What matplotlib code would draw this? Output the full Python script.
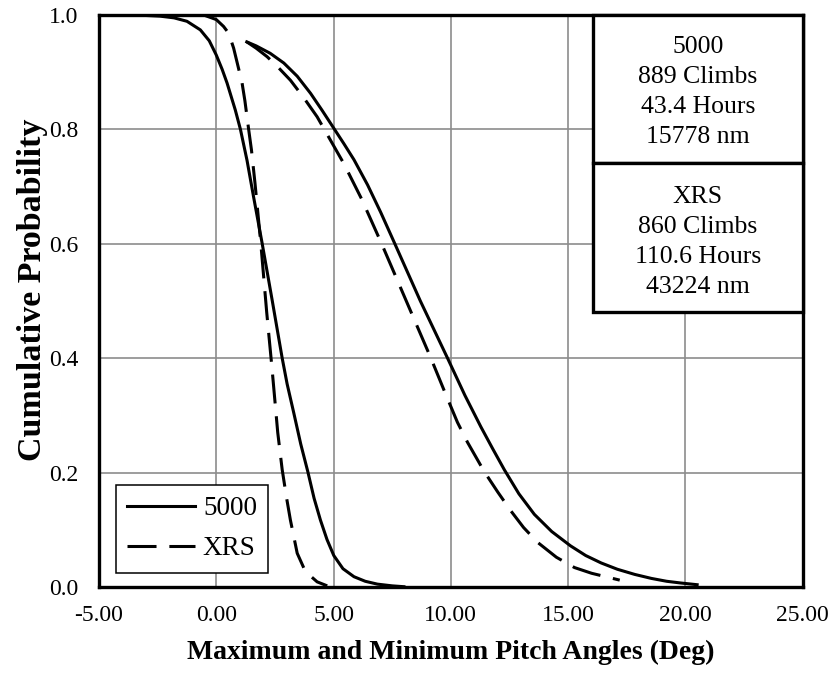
import matplotlib
matplotlib.use("Agg")
import matplotlib.pyplot as plt
from matplotlib.patches import Rectangle
from matplotlib.ticker import FormatStrFormatter, MultipleLocator

plt.rcParams['font.family'] = ['Liberation Serif', 'DejaVu Serif']

# ---- data ----
series_names = ["5000", "XRS"]

x_5000_min = [-3.4, -2.4, -1.8, -1.25, -0.68, -0.30, 0.0, 0.25, 0.46, 0.81, 1.03, 1.31, 1.59, 1.95, 2.38,
              2.81, 3.02, 3.30, 3.60, 3.90, 4.17, 4.44, 4.72, 5.01, 5.40, 5.87, 6.35, 6.87, 7.50, 8.0]
y_5000_min = [1.0, 0.998, 0.995, 0.989, 0.974, 0.955, 0.930, 0.905, 0.881, 0.834, 0.800, 0.746, 0.682, 0.602, 0.502,
              0.400, 0.355, 0.305, 0.250, 0.202, 0.155, 0.117, 0.083, 0.055, 0.032, 0.018, 0.010, 0.005, 0.002, 0.0005]

x_5000_max = [1.30, 1.70, 2.30, 2.88, 3.45, 4.02, 4.50, 5.01, 5.44, 5.87, 6.45, 7.01, 7.58, 8.70, 9.86, 10.60,
              11.28, 11.78, 12.28, 12.90, 13.56, 14.30, 15.10, 15.75, 16.41, 17.10, 17.84, 18.55, 19.20, 19.80, 20.50]
y_5000_max = [0.953, 0.946, 0.933, 0.916, 0.893, 0.863, 0.834, 0.802, 0.775, 0.747, 0.703, 0.655, 0.603, 0.500, 0.400, 0.335,
              0.280, 0.242, 0.205, 0.163, 0.127, 0.097, 0.072, 0.055, 0.042, 0.031, 0.022, 0.015, 0.010, 0.007, 0.004]

x_xrs_min = [-0.54, 0.0, 0.31, 0.53, 0.74, 0.90, 1.10, 1.22, 1.38, 1.50, 1.65, 1.90, 2.15, 2.37, 2.62, 2.81,
             3.00, 3.16, 3.45, 3.80, 4.30, 4.73]
y_xrs_min = [1.0, 0.992, 0.980, 0.968, 0.942, 0.915, 0.881, 0.850, 0.800, 0.764, 0.706, 0.600, 0.480, 0.385, 0.270, 0.205,
             0.155, 0.117, 0.059, 0.027, 0.009, 0.002]

x_xrs_max = [1.30, 1.70, 2.17, 2.65, 3.16, 3.70, 4.30, 4.87, 5.44, 6.20, 7.05, 8.10, 9.15, 9.75, 10.28, 10.71,
             11.42, 12.00, 12.56, 13.10, 13.70, 14.50, 15.27, 16.00, 16.70, 17.20]
y_xrs_max = [0.953, 0.942, 0.927, 0.908, 0.886, 0.857, 0.822, 0.781, 0.740, 0.678, 0.600, 0.500, 0.400, 0.340, 0.288, 0.253,
             0.202, 0.166, 0.133, 0.104, 0.078, 0.052, 0.034, 0.024, 0.017, 0.012]

box_5000_lines = ["5000", "889 Climbs", "43.4 Hours", "15778 nm"]
box_xrs_lines = ["XRS", "860 Climbs", "110.6 Hours", "43224 nm"]

x_label = "Maximum and Minimum Pitch Angles (Deg)"
y_label = "Cumulative Probability"

# ---- figure ----
fig = plt.figure(figsize=(8.35, 6.77), dpi=100)
ax = fig.add_axes([99/835, 1-587/677, (802.7-99)/835, 572/677])

lw = 2.2
dash = (0, (9.5, 4.2))
kw = dict(color='black', lw=lw, solid_joinstyle='round', dash_joinstyle='round', zorder=3)
l1, = ax.plot(x_5000_min, y_5000_min, label=series_names[0], **kw)
ax.plot(x_5000_max, y_5000_max, **kw)
l2, = ax.plot(x_xrs_min, y_xrs_min, linestyle=dash, label=series_names[1], **kw)
ax.plot(x_xrs_max, y_xrs_max, linestyle=dash, **kw)

ax.set_xlim(-5, 25)
ax.set_ylim(0, 1)
ax.xaxis.set_major_locator(MultipleLocator(5))
ax.yaxis.set_major_locator(MultipleLocator(0.2))
ax.xaxis.set_major_formatter(FormatStrFormatter('%.2f'))
ax.yaxis.set_major_formatter(FormatStrFormatter('%.1f'))
ax.tick_params(axis='both', length=0, labelsize=17)
ax.tick_params(axis='x', pad=13)
ax.tick_params(axis='y', pad=15)
ax.grid(True, color='#8c8c8c', lw=1.2, zorder=1)
ax.set_axisbelow(True)
for s in ax.spines.values():
    s.set_linewidth(2.4)
    s.set_color('black')
    s.set_zorder(5)

ax.set_xlabel(x_label, fontsize=20, fontweight='bold')
ax.xaxis.set_label_coords(0.5, -0.115)
ax.xaxis.label.set_va('center')
ax.set_ylabel(y_label, fontsize=24.5, fontweight='bold')
ax.yaxis.set_label_coords(-0.095, 0.52)
ax.yaxis.label.set_va('center')

leg = ax.legend(handles=[l1, l2], loc='lower left', bbox_to_anchor=(0.0237, 0.025),
                borderaxespad=0, fontsize=19.5, handlelength=2.5, handletextpad=0.3,
                fancybox=False, framealpha=1, edgecolor='black', borderpad=0.42,
                labelspacing=0.55)
leg.get_frame().set_linewidth(1.1)
leg.set_zorder(6)

# stats boxes
bx0 = 0.702
for (y0, y1) in [(0.741, 1.0), (0.481, 0.741)]:
    ax.add_patch(Rectangle((bx0, y0), 1 - bx0, y1 - y0, transform=ax.transAxes,
                           facecolor='white', edgecolor='black', lw=2.4, zorder=7, clip_on=False))
cx = (bx0 + 1) / 2
step = 0.0525
for lines, ytop in [(box_5000_lines, 0.9446), (box_xrs_lines, 0.682)]:
    for i, t in enumerate(lines):
        ax.text(cx, ytop - i*step, t, transform=ax.transAxes, ha='center', va='center',
                fontsize=18.5, zorder=8)

fig.savefig('out.png', dpi=100)
